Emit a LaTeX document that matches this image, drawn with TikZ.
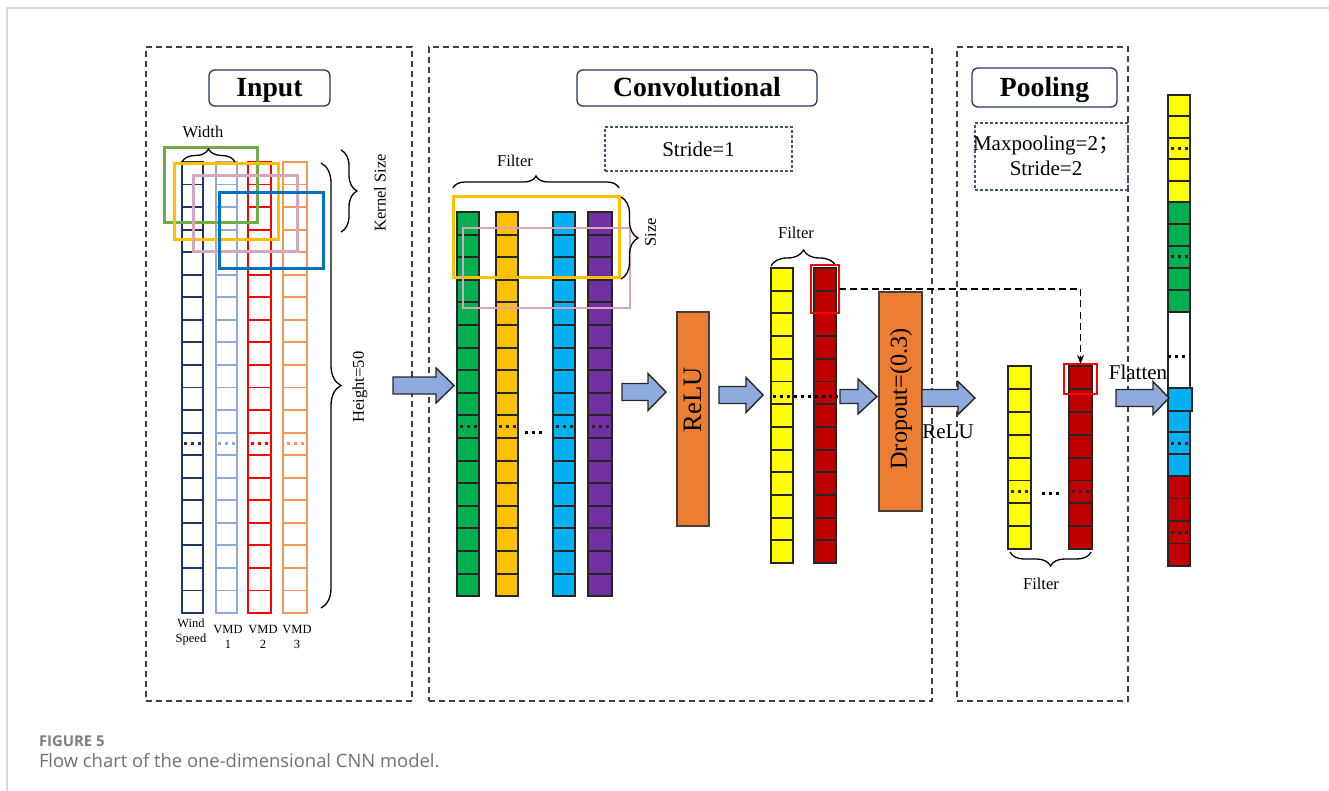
\documentclass[tikz,border=0pt]{standalone}
\usepackage{fontspec}
\setmainfont{Liberation Serif}
\newfontfamily\capfont{Open Sans}
\newfontfamily\cjk{Noto Sans CJK SC}
\usepackage{xcolor}
\usepackage{tikz}
\usetikzlibrary{positioning,arrows.meta,decorations.pathreplacing}

\definecolor{navy}{HTML}{203864}
\definecolor{lblue}{HTML}{8FAADC}
\definecolor{vred}{HTML}{FF0000}
\definecolor{vorange}{HTML}{F4955A}
\definecolor{cgreen}{HTML}{00B050}
\definecolor{cgold}{HTML}{FFC000}
\definecolor{ccyan}{HTML}{00B0F0}
\definecolor{cpurple}{HTML}{7030A0}
\definecolor{cyellow}{HTML}{FFFF00}
\definecolor{cdred}{HTML}{C00000}
\definecolor{korange}{HTML}{ED7D31}
\definecolor{kgreen}{HTML}{70AD47}
\definecolor{kpink}{HTML}{D5A6BD}
\definecolor{kblue}{HTML}{0070C0}
\definecolor{boxblue}{HTML}{1F3864}
\definecolor{capgray}{HTML}{707070}

% column of cells: name, x, top, width, cells, cell height, fill, draw, dotted cell
\newcommand{\cellcol}[9]{%
  \node[colbox, fill=#7, draw=#8, minimum width=#4pt, minimum height=#5*#6pt, anchor=north west] (#1) at (#2,#3) {};
  \ifnum#5>1
    \pgfmathtruncatemacro\ncl{#5-1}
    \foreach \k in {1,...,\ncl} \draw[cellline, draw=#8] (#2,#3+\k*#6) -- ++(#4,0);
  \fi
  \ifnum#9>-1
    \draw[dotline, draw=#8] (#2+#4/2-8.4,#3+#9*#6+#6/2) -- ++(17,0);
  \fi}
% block arrow: name, tail x, tip x, mid y, half shaft, half head, head base x
\newcommand{\fatarrow}[7]{%
  \draw[fatarrow] (#2,#4-#5) -- (#7,#4-#5) -- (#7,#4-#6) -- (#3,#4) -- (#7,#4+#6) -- (#7,#4+#5) -- (#2,#4+#5) -- cycle;
  \coordinate (#1) at (#3,#4);}

\begin{document}
\begin{tikzpicture}[x=1pt, y=-1pt, every node/.style={inner sep=0pt, outer sep=0pt},
  panel/.style={draw=black!75, dash pattern=on 6pt off 4pt, line width=1.1pt},
  titlebox/.style={draw=boxblue, rounded corners=6pt, line width=1.3pt, fill=white, text height=19pt, text depth=1pt, font=\fontsize{27.7}{30}\selectfont\bfseries},
  notebox/.style={draw=boxblue!85, dash pattern=on 3pt off 2pt, line width=1.1pt},
  colbox/.style={rectangle, line width=2pt},
  cellline/.style={line width=1.9pt},
  dotline/.style={line width=3pt, dash pattern=on 3pt off 4pt},
  kern/.style={line width=3pt},
  brc/.style={decorate, decoration={brace, amplitude=#1}, line width=1.3pt},
  lbl/.style={font=\fontsize{16.5}{19}\selectfont},
  midlbl/.style={font=\fontsize{21}{25}\selectfont},
  smlbl/.style={font=\fontsize{12.5}{15}\selectfont, align=center},
  fatarrow/.style={fill=lblue, draw=black!85, line width=1.4pt, line join=miter},
  actbox/.style={draw=black!75, fill=korange, line width=1.3pt},
  selbox/.style={draw=vred, line width=1.2pt, anchor=north west}]
\useasboundingbox (0,0) rectangle (1329,791);
\draw[line width=2pt, draw=black!15] (7,791) -- (7,8) -- (1329,8);

% panels and titles
\node[panel, minimum width=266pt, minimum height=654pt, anchor=north west] (inpanel) at (146,47) {};
\node[panel, minimum width=503pt, minimum height=654pt, anchor=north west] (cvpanel) at (429,47) {};
\node[panel, minimum width=171pt, minimum height=654pt, anchor=north west] (plpanel) at (957,47) {};
\node[titlebox, minimum width=121pt, minimum height=36pt] (intitle) at (269.5,88) {Input};
\node[titlebox, minimum width=240pt, minimum height=36pt] (cvtitle) at (697,88) {Convolutional};
\node[titlebox, minimum width=145pt, minimum height=39pt] (pltitle) at (1044.5,87.5) {Pooling};
\node[notebox, minimum width=187pt, minimum height=44pt, midlbl] (stride) at (698.5,149) {Stride=1};
\node[notebox, minimum width=153pt, minimum height=67pt, anchor=north west] (maxp) at (975,123) {};
\node[midlbl, align=center] (maxptxt) at (1046,156) {Maxpooling=2{\cjk ；}\\Stride=2};

% input
\cellcol{ws}{182}{162}{21}{20}{22.55}{white}{navy}{12}
\cellcol{vmda}{216}{162}{21}{20}{22.55}{white}{lblue}{12}
\cellcol{vmdb}{248}{162}{23}{20}{22.55}{white}{vred}{12}
\cellcol{vmdc}{283}{162}{24}{20}{22.55}{white}{vorange}{12}
\draw[kern, kgreen] (164,148) rectangle (257,223);
\draw[kern, cgold] (174,164) rectangle (278,240);
\draw[kern, kpink] (193,176) rectangle (297,252);
\draw[kern, kblue] (219,193) rectangle (323,269);
\draw[brc=13] (182,162) -- (235,162);
\node[lbl] (wlab) at (203,132) {Width};
\draw[brc=16] (341,150) -- (341,232);
\node[lbl, rotate=90] (klab) at (380,193) {Kernel Size};
\draw[brc=20] (321,163) -- (321,608);
\node[lbl, rotate=90] (hlab) at (360,387) {Height=50};
\node[smlbl] (wslab) at (191,632) {Wind\\Speed};
\node[smlbl] (v1lab) at (228,637) {VMD\\1};
\node[smlbl] (v2lab) at (263,637) {VMD\\2};
\node[smlbl] (v3lab) at (297,637) {VMD\\3};

% convolution
\cellcol{fa}{457}{212}{22}{17}{22.6}{cgreen}{black!85}{9}
\cellcol{fb}{496}{212}{22}{17}{22.6}{cgold}{black!85}{9}
\cellcol{fc}{553}{212}{22}{17}{22.6}{ccyan}{black!85}{9}
\cellcol{fd}{588}{212}{24}{17}{22.6}{cpurple}{black!85}{9}
\draw[dotline] (525,432) -- ++(17,0);
\draw[kern, cgold] (453,197) rectangle (619,278);
\draw[kern, kpink, line width=2.4pt] (463,228) rectangle (630,308);
\draw[brc=12] (453,188) -- (619,188);
\node[lbl] (flab1) at (515,161) {Filter};
\draw[brc=17] (621,197) -- (621,279);
\node[lbl, rotate=90] (slab) at (650.5,232) {Size};

\node[actbox, minimum width=32pt, minimum height=214pt, anchor=north west] (relu) at (677,312) {};
\node[rotate=90, font=\fontsize{26.6}{30}\selectfont] (relut) at (693,400) {ReLU};
\cellcol{ra}{771}{268}{22}{13}{22.7}{cyellow}{black!85}{-1}
\cellcol{rb}{814}{268}{22}{13}{22.7}{cdred}{black!85}{-1}
\draw[dotline] (773,396) -- (838,396);
\draw[brc=16] (771,266) -- (836,266);
\node[lbl] (flab2) at (796,232.5) {Filter};
\node[selbox, minimum width=28pt, minimum height=48pt] (selA) at (811,265) {};
\node[actbox, minimum width=43pt, minimum height=219pt, anchor=north west] (drop) at (879,292) {};
\node[rotate=90, font=\fontsize{24.3}{28}\selectfont] (dropt) at (901,399) {Dropout=(0.3)};

% pooling
\cellcol{pa}{1008}{366}{23}{8}{22.9}{cyellow}{black!85}{5}
\cellcol{pb}{1069}{366}{23}{8}{22.9}{cdred}{black!85}{5}
\draw[dotline] (1042,493) -- ++(17,0);
\node[selbox, minimum width=33pt, minimum height=30pt] (selB) at (1064,364) {};
\draw[brc=14] (1091,552) -- (1010,552);
\node[lbl] (flab3) at (1041,583.5) {Filter};
\draw[dash pattern=on 7pt off 4pt, line width=1.2pt, -{Stealth[length=9pt,width=7pt]}] (selA.east) -| (selB.north);

% flatten
\cellcol{fy}{1168}{95}{22}{5}{21.4}{cyellow}{black!85}{2}
\cellcol{fg}{1168}{202}{22}{5}{22}{cgreen}{black!85}{2}
\cellcol{fw}{1168}{312}{22}{1}{76}{white}{black!85}{-1}
\draw[dotline] (1168,356) -- ++(17,0);
\cellcol{fcy}{1168}{388}{22}{4}{22}{ccyan}{black!85}{2}
\cellcol{fr}{1168}{476}{22}{4}{22.5}{cdred}{black!85}{2}
\node[colbox, draw=black!85, fill=ccyan, minimum width=24pt, minimum height=23pt, anchor=north west] (fcell) at (1168,388) {};

% block arrows
\fatarrow{arA}{393}{454}{385.5}{8.5}{17.5}{436}
\fatarrow{arB}{622}{666}{392}{8.5}{18.5}{648}
\fatarrow{arC}{719}{763}{395}{8.5}{17.5}{746}
\fatarrow{arD}{840}{877}{396.5}{7}{17.5}{858}
\fatarrow{arE}{922}{975}{398}{8.5}{16.5}{958}
\fatarrow{arF}{1116}{1169}{398}{8.5}{16.5}{1153}
\node[midlbl] (rlab) at (948,432) {ReLU};
\node[midlbl] (flat) at (1138,372) {Flatten};

% caption
\node[anchor=base west, font=\capfont\fontsize{14.9}{17}\selectfont\bfseries, text=capgray!90] (fig) at (39,746) {FIGURE 5};
\node[anchor=base west, font=\capfont\fontsize{18.4}{21}\selectfont, text=capgray] (cap) at (39,767) {Flow chart of the one-dimensional CNN model.};
\end{tikzpicture}
\end{document}
